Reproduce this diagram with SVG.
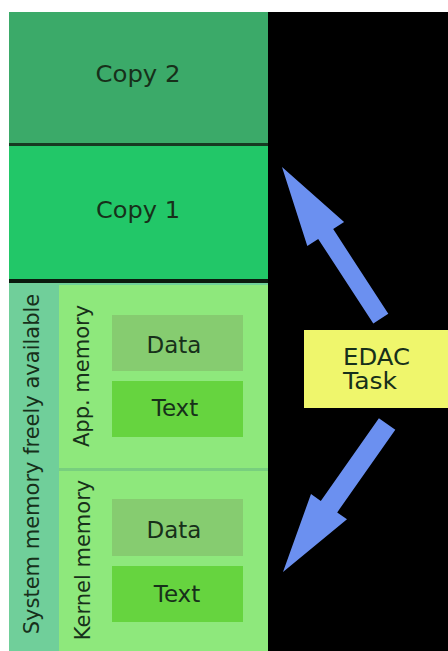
<svg xmlns="http://www.w3.org/2000/svg" width="448" height="651" viewBox="0 0 448 651">
<style>
.t{font-family:"DejaVu Sans",Verdana,sans-serif;fill:#17301a;font-size:23px}
.v{font-size:21px}
.c{text-anchor:middle}
.arrow{fill:#6b90f0}
</style>
<rect x="0" y="0" width="448" height="651" fill="#ffffff"/>
<rect x="268" y="12" width="180" height="639" fill="#000000"/>
<g id="copy2">
<rect x="9" y="12" width="259" height="132" fill="#3baa69"/>
<text class="t c" x="138" y="82" textLength="85" lengthAdjust="spacingAndGlyphs">Copy 2</text>
</g>
<rect x="9" y="143" width="259" height="3" fill="#173a22"/>
<g id="copy1">
<rect x="9" y="146" width="259" height="133" fill="#22c768"/>
<text class="t c" x="138" y="218" textLength="84" lengthAdjust="spacingAndGlyphs">Copy 1</text>
</g>
<rect x="9" y="279" width="259" height="4" fill="#0b1a0e"/>
<g id="system">
<rect x="9" y="283" width="259" height="368" fill="#70cf9a"/>
<text class="t v c" transform="translate(39,464) rotate(-90)">System memory freely available</text>
</g>
<g id="app">
<rect x="59" y="285" width="209" height="183" fill="#8ee87c"/>
<text class="t v c" transform="translate(89,376) rotate(-90)">App. memory</text>
</g>
<rect x="59" y="468" width="209" height="3" fill="#78cf7e"/>
<g id="kernel">
<rect x="59" y="471" width="209" height="180" fill="#8ee87c"/>
<text class="t v c" transform="translate(90,560) rotate(-90)">Kernel memory</text>
</g>
<g id="app-data">
<rect x="112" y="315" width="131" height="56" fill="#86cc70"/>
<text class="t c" x="174" y="353">Data</text>
</g>
<g id="app-text">
<rect x="112" y="381" width="131" height="56" fill="#66d43f"/>
<text class="t c" x="175" y="416">Text</text>
</g>
<g id="kernel-data">
<rect x="112" y="499" width="131" height="57" fill="#86cc70"/>
<text class="t c" x="174" y="538">Data</text>
</g>
<g id="kernel-text">
<rect x="112" y="566" width="131" height="56" fill="#66d43f"/>
<text class="t c" x="177" y="602">Text</text>
</g>
<g id="edac">
<rect x="304" y="330" width="144" height="78" fill="#eff66c"/>
<text class="t" font-size="20"><tspan x="343" y="365" textLength="67" lengthAdjust="spacingAndGlyphs">EDAC</tspan><tspan x="343" y="389" textLength="54" lengthAdjust="spacingAndGlyphs">Task</tspan></text>
</g>
<g id="connectors">
<polygon class="arrow" points="282,167 344.1,222 333.2,229.1 388.3,313.8 373.3,323.6 318.2,238.9 307.3,246"/>
<polygon class="arrow" points="283,572 311,494 320.8,500.9 378.9,418.2 395.3,429.7 337.2,512.4 347,519.3"/>
</g>
</svg>
